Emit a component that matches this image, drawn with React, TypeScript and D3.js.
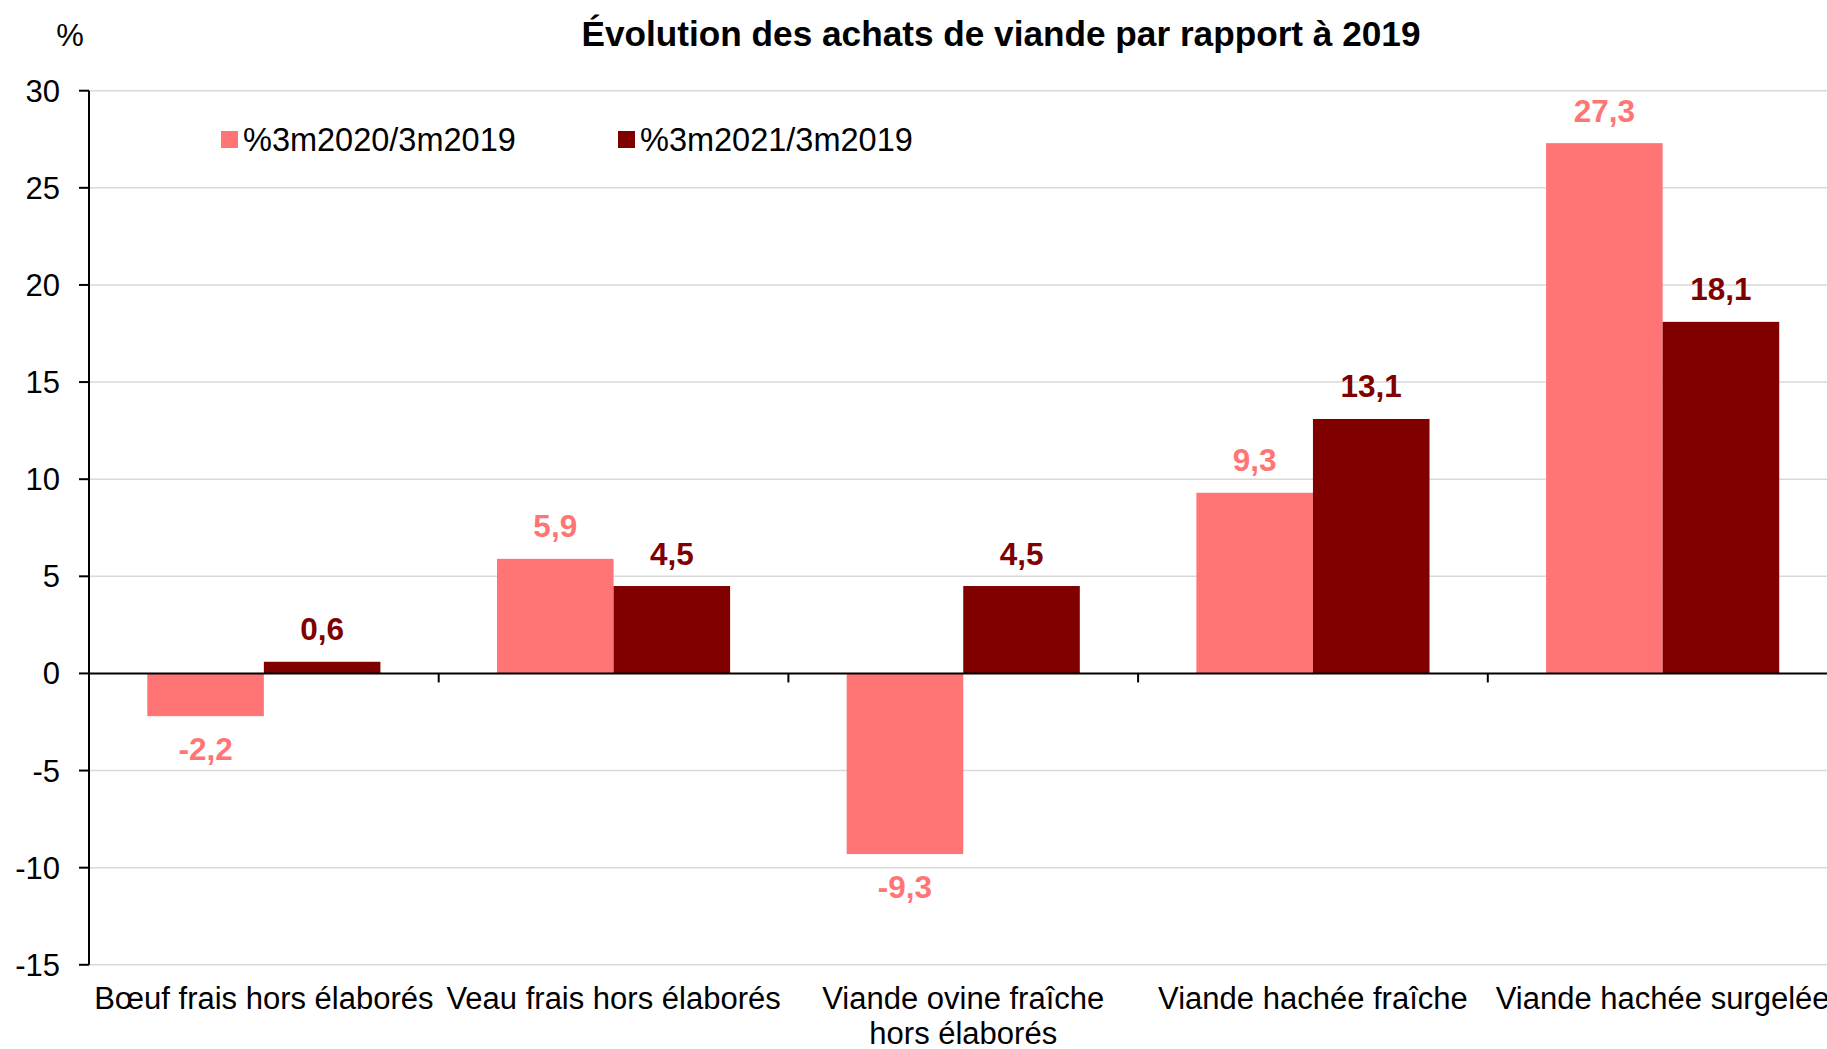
import React, { useEffect } from "react";
import * as d3 from "d3";

const categories: string[][] = [
  ["Bœuf frais hors élaborés"],
  ["Veau frais hors élaborés"],
  ["Viande ovine fraîche", "hors élaborés"],
  ["Viande hachée fraîche"],
  ["Viande hachée surgelée"],
];
const seriesNames = ["%3m2020/3m2019", "%3m2021/3m2019"];
const values2020 = [-2.2, 5.9, -9.3, 9.3, 27.3];
const values2021 = [0.6, 4.5, 4.5, 13.1, 18.1];
const yTicks = [-15, -10, -5, 0, 5, 10, 15, 20, 25, 30];
const title = "Évolution des achats de viande par rapport à 2019";
const colors = ["#FF7575", "#800000"];

const W = 1827;
const H = 1049;
const FONT = "'Liberation Sans', Arial, Helvetica, sans-serif";

export default function App() {
  useEffect(() => {
    document.body.style.margin = "0";
  }, []);

  const left = 89;
  const bandW = 349.7;
  const x0 = d3
    .scaleBand<number>()
    .domain(categories.map((_, i) => i))
    .range([left, left + bandW * categories.length])
    .paddingInner(0)
    .paddingOuter(0);
  const x1 = d3
    .scaleBand<number>()
    .domain([0, 1])
    .range([0, x0.bandwidth()])
    .paddingInner(0)
    .paddingOuter(0.5);
  const y = d3.scaleLinear().domain([-15, 30]).range([964.8, 90.7]);
  const seriesVals = [values2020, values2021];
  const fmt = (v: number) => v.toFixed(1).replace(".", ",");

  return (
    <svg width={W} height={H} style={{ display: "block" }} fontFamily={FONT}>
      <rect x={0} y={0} width={W} height={H} fill="#fff" />
      {/* gridlines */}
      {yTicks
        .filter((t) => t !== 0)
        .map((t) => (
          <line key={"g" + t} x1={left} x2={W} y1={y(t)} y2={y(t)} stroke="#D9D9D9" strokeWidth={1.5} />
        ))}
      {/* bars */}
      {categories.map((_, i) =>
        seriesVals.map((vals, s) => {
          const v = vals[i];
          const bx = (x0(i) as number) + (x1(s) as number);
          return (
            <rect
              key={`b${i}-${s}`}
              x={bx}
              y={Math.min(y(v), y(0))}
              width={x1.bandwidth()}
              height={Math.abs(y(v) - y(0))}
              fill={colors[s]}
            />
          );
        })
      )}
      {/* zero line */}
      <line x1={left} x2={W} y1={y(0)} y2={y(0)} stroke="#000" strokeWidth={2} />
      {/* category ticks */}
      {categories.slice(1).map((_, i) => (
        <line
          key={"ct" + i}
          x1={x0(i + 1) as number}
          x2={x0(i + 1) as number}
          y1={y(0)}
          y2={y(0) + 9}
          stroke="#000"
          strokeWidth={2}
        />
      ))}
      {/* y axis */}
      <line x1={left} x2={left} y1={y(30)} y2={y(-15)} stroke="#000" strokeWidth={2} />
      {yTicks.map((t) => (
        <g key={"t" + t}>
          <line x1={left - 10} x2={left} y1={y(t)} y2={y(t)} stroke="#000" strokeWidth={2} />
          <text x={left - 29} y={y(t) + 11} textAnchor="end" fontSize={31} fill="#000">
            {t}
          </text>
        </g>
      ))}
      {/* value labels */}
      {categories.map((_, i) =>
        seriesVals.map((vals, s) => {
          const v = vals[i];
          const cx = (x0(i) as number) + (x1(s) as number) + x1.bandwidth() / 2;
          const ly = v >= 0 ? y(v) - 21.5 : y(v) + 44;
          return (
            <text
              key={`l${i}-${s}`}
              x={cx}
              y={ly}
              textAnchor="middle"
              fontSize={31.5}
              fontWeight="bold"
              fill={colors[s]}
            >
              {fmt(v)}
            </text>
          );
        })
      )}
      {/* category labels */}
      {categories.map((lines, i) => (
        <text
          key={"c" + i}
          x={(x0(i) as number) + x0.bandwidth() / 2}
          y={1009}
          textAnchor="middle"
          fontSize={31}
          fill="#000"
        >
          {lines.map((ln, j) => (
            <tspan key={j} x={(x0(i) as number) + x0.bandwidth() / 2} dy={j === 0 ? 0 : 35}>
              {ln}
            </tspan>
          ))}
        </text>
      ))}
      {/* legend */}
      {seriesNames.map((n, s) => {
        const lx = s === 0 ? 221 : 618;
        return (
          <g key={"lg" + s}>
            <rect x={lx} y={131} width={17} height={17} fill={colors[s]} />
            <text x={lx + 22} y={150.5} fontSize={32.5} fill="#000">
              {n}
            </text>
          </g>
        );
      })}
      {/* title */}
      <text x={1001} y={46} textAnchor="middle" fontSize={35.2} fontWeight="bold" fill="#000">
        {title}
      </text>
      <text x={70} y={46} textAnchor="middle" fontSize={31} fill="#000">
        %
      </text>
    </svg>
  );
}
